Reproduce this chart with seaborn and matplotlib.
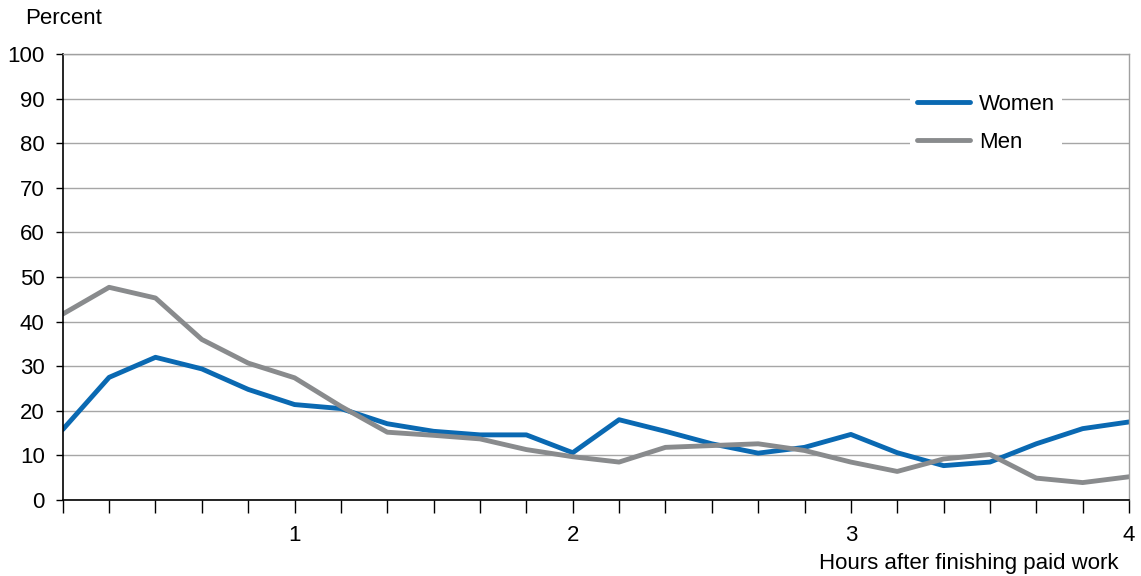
import matplotlib
matplotlib.use("Agg")
import matplotlib.pyplot as plt
import seaborn as sns
import pandas as pd
from matplotlib.ticker import FixedLocator

minutes = [10, 20, 30, 40, 50, 60, 70, 80, 90, 100, 110, 120,
           130, 140, 150, 160, 170, 180, 190, 200, 210, 220, 230, 240]
women = [15.8, 27.5, 32.0, 29.4, 24.8, 21.4, 20.5, 17.1, 15.4, 14.6, 14.6, 10.6,
         18.0, 15.4, 12.6, 10.5, 11.8, 14.7, 10.6, 7.7, 8.5, 12.6, 16.0, 17.5]
men = [41.7, 47.7, 45.3, 36.0, 30.7, 27.4, 21.0, 15.2, 14.5, 13.7, 11.3, 9.7,
       8.5, 11.8, 12.2, 12.6, 11.1, 8.5, 6.4, 9.2, 10.2, 4.9, 3.9, 5.2]
series = ["Women", "Men"]
colors = {"Women": "#0A69B2", "Men": "#898B8D"}
major_hours = [1, 2, 3, 4]
y_ticks = [0, 10, 20, 30, 40, 50, 60, 70, 80, 90, 100]

hours = [m / 60 for m in minutes]
df = pd.concat([
    pd.DataFrame({"hours": hours, "value": women, "sex": "Women"}),
    pd.DataFrame({"hours": hours, "value": men, "sex": "Men"}),
])

sns.set_style("white")
plt.rcParams["font.family"] = ["Liberation Sans", "DejaVu Sans"]
plt.rcParams["text.color"] = "black"
plt.rcParams["xtick.color"] = "black"
plt.rcParams["ytick.color"] = "black"

fig = plt.figure(figsize=(11.41, 5.76), dpi=100)
ax = fig.add_axes([0.055, 0.132, 0.9345, 0.774])

sns.lineplot(data=df, x="hours", y="value", hue="sex", hue_order=series,
             palette=colors, linewidth=3.5, ax=ax, legend=False)

ax.set_xlim(hours[0], hours[-1])
ax.set_ylim(0, 100)
ax.set_yticks(y_ticks)
ax.yaxis.grid(True, color="#A6A6A6", linewidth=1)
ax.set_axisbelow(True)

ax.set_xticks(major_hours)
ax.set_xticklabels([str(h) for h in major_hours])
ax.xaxis.set_minor_locator(FixedLocator(hours))
ax.tick_params(axis="x", which="both", direction="out", length=9, width=1,
               color="black", labelcolor="black", bottom=True, labelsize=16, pad=9)
ax.tick_params(axis="y", direction="out", length=5, width=1, color="black",
               labelcolor="black", left=True, labelsize=16, pad=8)

for side in ["left", "bottom"]:
    ax.spines[side].set_color("black")
    ax.spines[side].set_linewidth(1.2)
for side in ["top", "right"]:
    ax.spines[side].set_color("#A0A0A0")
    ax.spines[side].set_linewidth(1)

ax.set_xlabel("")
ax.set_ylabel("")
fig.text(0.022, 0.968, "Percent", fontsize=16, va="center", ha="left",
         color="black")
fig.text(0.98, 0.022, "Hours after finishing paid work", fontsize=16,
         va="center", ha="right", color="black")

handles = [plt.Line2D([0], [0], color=colors[s], linewidth=3.5,
                      solid_capstyle="round") for s in series]
leg = ax.legend(handles, series, loc="upper left", bbox_to_anchor=(0.795, 0.925),
                frameon=True, fontsize=16, handlelength=2.4, handletextpad=0.4,
                labelspacing=0.75, borderpad=0.3, borderaxespad=0)
leg.get_frame().set_facecolor("white")
leg.get_frame().set_edgecolor("none")
leg.get_frame().set_alpha(1)
for t in leg.get_texts():
    t.set_color("black")

fig.savefig("out.png", dpi=100)
